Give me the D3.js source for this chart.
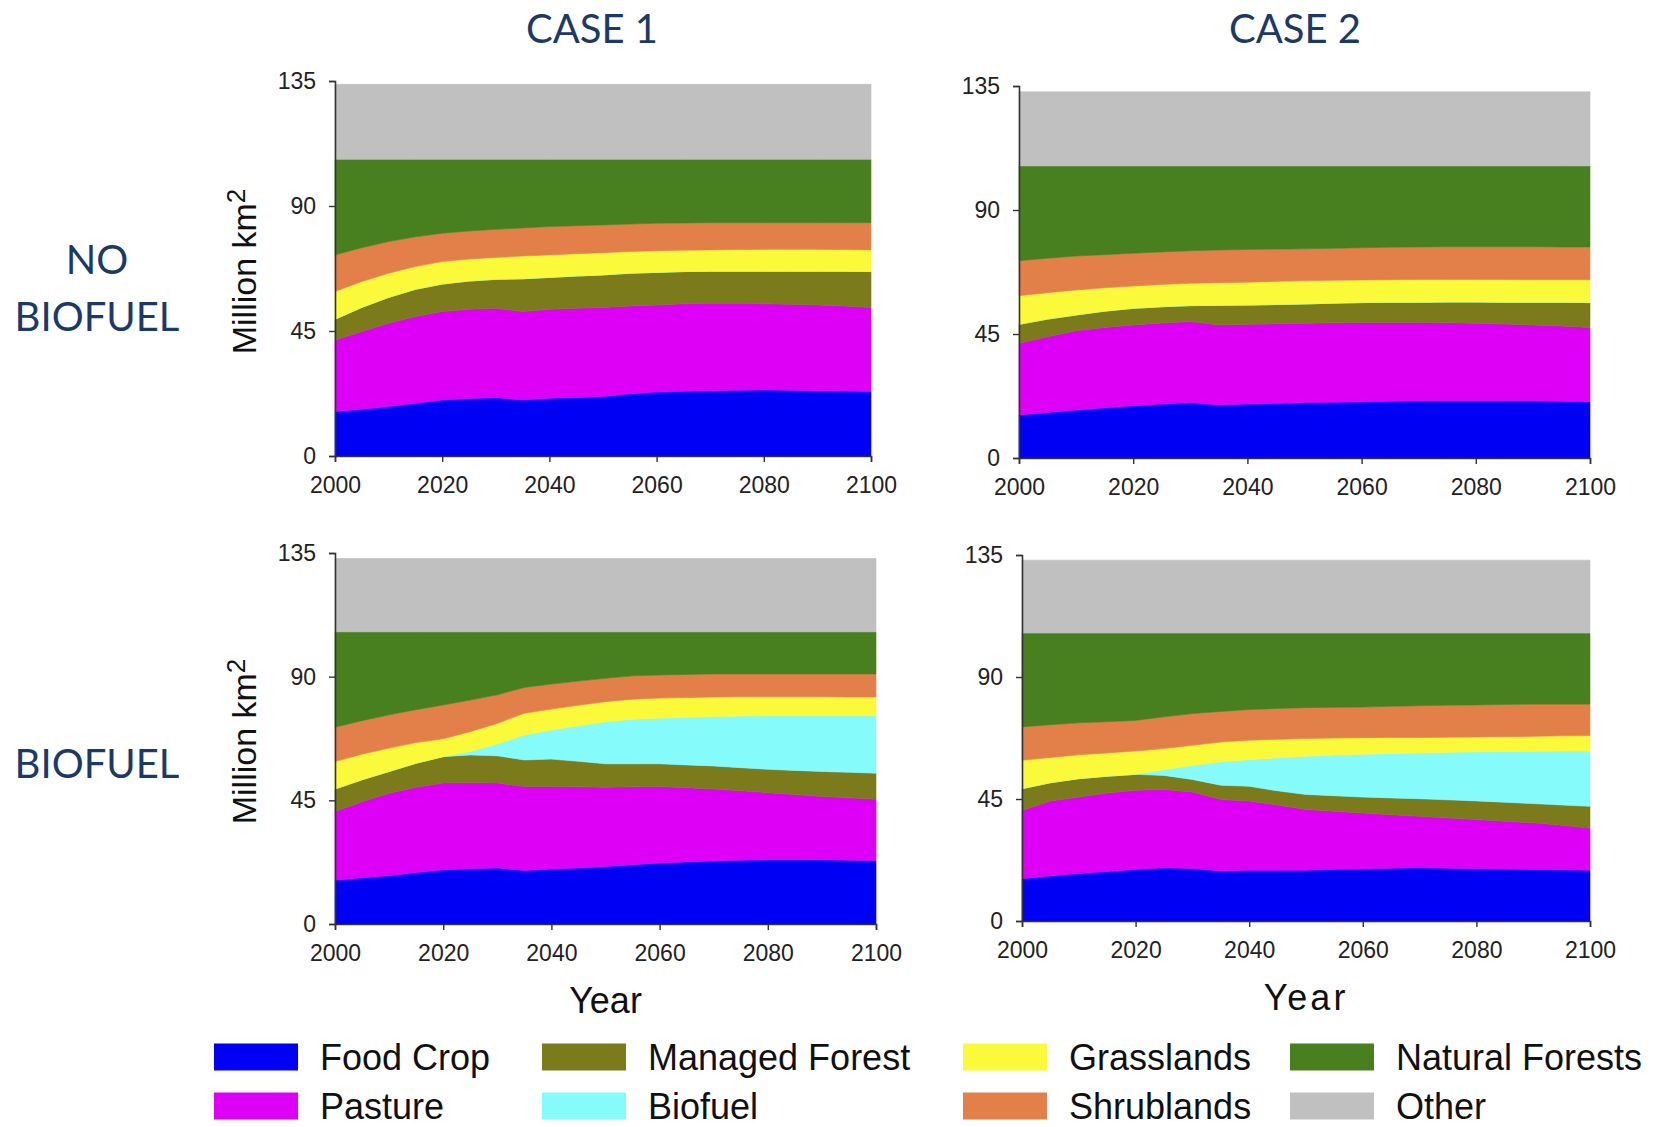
<!DOCTYPE html>
<html>
<head>
<meta charset="utf-8">
<script src="https://cdn.jsdelivr.net/npm/d3@7"></script>
<style>
  html, body { margin: 0; padding: 0; background: #ffffff; }
  svg { display: block; }
</style>
</head>
<body>
<svg id="chart" width="1658" height="1127"></svg>
<script>
// ---- Data: land area by type, million km2, stacked bottom to top ----
const years = [2000, 2005, 2010, 2015, 2020, 2025, 2030, 2035, 2040, 2045, 2050,
               2055, 2060, 2065, 2070, 2075, 2080, 2085, 2090, 2095, 2100];

const categories = ["Food Crop", "Pasture", "Managed Forest", "Biofuel",
                    "Grasslands", "Shrublands", "Natural Forests", "Other"];
const categoryColors = ["#0000f4", "#de00f6", "#7b7b1c", "#86fbfb",
                        "#fafa3a", "#e3804a", "#487f1f", "#c0c0c0"];

const xTicks = [2000, 2020, 2040, 2060, 2080, 2100];
const yTicks = [0, 45, 90, 135];

// Case 1, no biofuel
const c1nb_food    = [16.0,16.8,17.8,19.0,20.2,20.7,21.0,20.2,20.8,21.1,21.4,22.4,23.0,23.3,23.5,23.7,23.8,23.7,23.5,23.4,23.2];
const c1nb_pasture = [25.8,28.0,30.0,31.2,31.8,32.1,32.2,31.8,32.0,32.1,32.1,31.6,31.4,31.5,31.5,31.3,31.0,30.9,30.9,30.6,30.3];
const c1nb_managed = [7.4,8.7,9.3,9.8,9.9,10.2,10.4,11.8,11.5,11.6,11.7,11.8,11.7,11.6,11.5,11.5,11.7,11.9,12.1,12.5,12.9];
const c1nb_biofuel = [0,0,0,0,0,0,0,0,0,0,0,0,0,0,0,0,0,0,0,0,0];
const c1nb_grass   = [10.0,9.3,8.7,8.2,8.1,7.9,7.9,8.2,8.1,8.0,8.0,7.8,7.8,7.7,7.7,7.8,7.9,7.9,7.9,7.8,7.8];
const c1nb_shrub   = [13.2,12.2,11.4,10.7,10.2,10.1,10.1,10.1,10.2,10.1,10.0,9.9,9.9,9.8,9.8,9.7,9.6,9.6,9.6,9.7,9.8];
const c1nb_natural = [34.4,31.8,29.6,27.9,26.6,25.8,25.2,24.7,24.2,23.9,23.6,23.3,23.0,22.9,22.8,22.8,22.8,22.8,22.8,22.8,22.8];
const c1nb_other   = [27.0,27.0,27.0,27.0,27.0,27.0,27.0,27.0,27.0,27.0,27.0,27.0,27.0,27.0,27.0,27.0,27.0,27.0,27.0,27.0,27.0];

// Case 2, no biofuel
const c2nb_food    = [15.6,16.5,17.4,18.2,19.0,19.6,20.1,19.2,19.6,19.8,20.1,20.2,20.4,20.6,20.8,20.8,20.8,20.8,20.8,20.6,20.4];
const c2nb_pasture = [26.0,27.5,28.8,29.2,29.3,29.4,29.4,29.1,28.9,28.9,28.8,28.9,28.8,28.6,28.4,28.3,28.1,27.8,27.5,27.3,27.0];
const c2nb_managed = [6.9,6.4,5.7,5.9,6.0,5.9,5.8,7.1,7.0,7.0,7.0,7.1,7.2,7.3,7.3,7.5,7.7,7.9,8.2,8.6,9.0];
const c2nb_biofuel = [0,0,0,0,0,0,0,0,0,0,0,0,0,0,0,0,0,0,0,0,0];
const c2nb_grass   = [10.4,9.6,9.1,8.5,8.1,8.1,8.1,8.2,8.3,8.4,8.4,8.3,8.2,8.2,8.3,8.2,8.2,8.3,8.2,8.2,8.3];
const c2nb_shrub   = [12.7,12.5,12.3,12.0,11.9,11.8,11.8,11.9,11.9,11.7,11.6,11.6,11.7,11.8,11.8,11.9,11.9,11.9,12.0,11.9,11.9];
const c2nb_natural = [34.4,33.5,32.7,32.2,31.7,31.2,30.8,30.5,30.3,30.2,30.1,29.9,29.7,29.5,29.4,29.3,29.3,29.3,29.3,29.4,29.4];
const c2nb_other   = [26.9,26.9,26.9,26.9,26.9,26.9,26.9,26.9,26.9,26.9,26.9,26.9,26.9,26.9,26.9,26.9,26.9,26.9,26.9,26.9,26.9];

// Case 1, with biofuel
const c1b_food    = [15.9,16.8,17.6,18.7,19.7,20.1,20.4,19.5,20.0,20.4,20.9,21.6,22.2,22.6,23.0,23.2,23.4,23.4,23.4,23.2,23.1];
const c1b_pasture = [25.0,27.7,30.0,31.1,31.6,31.3,30.9,30.5,30.0,29.5,28.9,28.3,27.8,27.0,26.1,25.3,24.4,23.7,23.0,22.7,22.3];
const c1b_managed = [8.2,8.0,7.9,8.7,9.6,10.1,9.9,9.7,10.0,9.3,8.5,8.4,8.3,8.3,8.4,8.4,8.5,8.8,9.1,9.3,9.5];
const c1b_biofuel = [0,0,0,0,0,1.3,4.3,9.1,10.6,12.9,15.3,16.2,16.6,17.3,18.0,18.8,19.5,19.9,20.3,20.6,20.9];
const c1b_grass   = [10.0,9.3,8.5,7.5,6.5,7.2,7.5,7.9,7.6,7.5,7.3,7.3,7.3,7.2,7.1,7.0,6.9,6.9,6.9,6.8,6.8];
const c1b_shrub   = [12.5,12.2,12.1,12.0,12.3,11.5,10.4,9.4,9.1,8.8,8.5,8.5,8.4,8.4,8.4,8.3,8.3,8.3,8.3,8.4,8.4];
const c1b_natural = [34.7,32.3,30.2,28.3,26.6,24.8,22.9,20.2,19.0,17.9,16.9,16.0,15.7,15.5,15.3,15.3,15.3,15.3,15.3,15.3,15.3];
const c1b_other   = [26.7,26.7,26.7,26.7,26.7,26.7,26.7,26.7,26.7,26.7,26.7,26.7,26.7,26.7,26.7,26.7,26.7,26.7,26.7,26.7,26.7];

// Case 2, with biofuel
const c2b_food    = [15.6,16.6,17.5,18.3,19.0,19.6,19.4,18.4,18.7,18.7,18.7,19.1,19.2,19.5,19.7,19.5,19.3,19.2,19.0,18.9,18.7];
const c2b_pasture = [25.2,27.7,28.2,28.9,29.2,28.9,28.2,26.4,25.6,24.1,22.4,21.4,20.6,19.7,18.9,18.5,18.1,17.6,17.2,16.4,15.6];
const c2b_managed = [8.0,6.7,6.8,6.2,5.9,5.2,4.6,5.3,5.4,5.2,5.6,5.7,5.9,6.2,6.5,6.7,6.9,7.0,7.1,7.5,8.0];
const c2b_biofuel = [0,0,0,0,0,2.1,5.2,8.6,9.8,12.2,14.1,15.0,15.8,16.4,16.9,17.5,18.1,18.7,19.3,19.9,20.4];
const c2b_grass   = [10.5,9.3,8.8,8.6,8.6,7.8,7.4,7.3,7.2,6.8,6.5,6.3,6.1,5.9,5.7,5.6,5.5,5.5,5.5,5.6,5.7];
const c2b_shrub   = [12.3,12.1,11.8,11.5,11.3,11.7,11.7,11.3,11.3,11.4,11.4,11.3,11.3,11.5,11.7,11.8,11.8,11.9,11.9,11.7,11.6];
const c2b_natural = [34.6,33.8,33.1,32.7,32.2,30.9,29.7,28.9,28.2,27.8,27.5,27.4,27.3,27.0,26.8,26.6,26.5,26.3,26.2,26.2,26.2];
const c2b_other   = [26.9,26.9,26.9,26.9,26.9,26.9,26.9,26.9,26.9,26.9,26.9,26.9,26.9,26.9,26.9,26.9,26.9,26.9,26.9,26.9,26.9];

// ---- Helpers ----
function buildRows(seriesList) {
  return years.map((yr, i) => {
    const row = { year: yr };
    categories.forEach((c, k) => { row[c] = seriesList[k][i]; });
    return row;
  });
}

const panels = [
  { rows: buildRows([c1nb_food, c1nb_pasture, c1nb_managed, c1nb_biofuel, c1nb_grass, c1nb_shrub, c1nb_natural, c1nb_other]),
    x0: 335, x1: 871, yBase: 456, yTop: 81, yTitle: true, xTitle: false, xTitleSpacing: 0 },
  { rows: buildRows([c2nb_food, c2nb_pasture, c2nb_managed, c2nb_biofuel, c2nb_grass, c2nb_shrub, c2nb_natural, c2nb_other]),
    x0: 1019, x1: 1590, yBase: 458, yTop: 86, yTitle: false, xTitle: false, xTitleSpacing: 0 },
  { rows: buildRows([c1b_food, c1b_pasture, c1b_managed, c1b_biofuel, c1b_grass, c1b_shrub, c1b_natural, c1b_other]),
    x0: 335, x1: 876, yBase: 924, yTop: 553, yTitle: true, xTitle: true, xTitleSpacing: 0 },
  { rows: buildRows([c2b_food, c2b_pasture, c2b_managed, c2b_biofuel, c2b_grass, c2b_shrub, c2b_natural, c2b_other]),
    x0: 1022, x1: 1590, yBase: 921, yTop: 555, yTitle: false, xTitle: true, xTitleSpacing: 3 }
];

const svg = d3.select("#chart");
const stack = d3.stack().keys(categories).order(d3.stackOrderNone).offset(d3.stackOffsetNone);
const tickFont = "'Liberation Sans', Arial, sans-serif";
const headFont = "Lato, 'Open Sans', sans-serif";
const navy = "#1b3a66";

panels.forEach(p => {
  const x = d3.scaleLinear().domain([2000, 2100]).range([p.x0, p.x1]);
  const y = d3.scaleLinear().domain([0, 135]).range([p.yBase, p.yTop]);
  const layers = stack(p.rows);

  const area = d3.area()
    .x(d => x(d.data.year))
    .y0(d => y(d[0]))
    .y1(d => y(d[1]))
    .curve(d3.curveLinear);

  const g = svg.append("g");
  g.selectAll("path.layer")
    .data(layers)
    .join("path")
    .attr("class", "layer")
    .attr("d", area)
    .attr("fill", (d, i) => categoryColors[i])
    .attr("stroke", (d, i) => categoryColors[i])
    .attr("stroke-width", 0.6);

  const yAxis = g.append("g")
    .attr("transform", `translate(${p.x0},0)`)
    .call(d3.axisLeft(y).tickValues(yTicks).tickSize(6).tickPadding(13).tickFormat(d3.format("d")));
  const xAxis = g.append("g")
    .attr("transform", `translate(0,${p.yBase})`)
    .call(d3.axisBottom(x).tickValues(xTicks).tickSize(6).tickPadding(15).tickFormat(d3.format("d")));

  [yAxis, xAxis].forEach(ax => {
    ax.select(".domain").attr("stroke", "#333").attr("stroke-width", 1.6);
    ax.selectAll(".tick line").attr("stroke", "#333").attr("stroke-width", 1.4);
    ax.selectAll(".tick text")
      .attr("fill", "#222")
      .style("font-family", tickFont)
      .style("font-size", "23px");
  });

  if (p.yTitle) {
    const cy = (p.yBase + p.yTop) / 2 + 3;
    const t = g.append("text")
      .attr("transform", `translate(256,${cy}) rotate(-90)`)
      .attr("text-anchor", "middle")
      .attr("fill", "#111")
      .style("font-family", tickFont)
      .style("font-size", "34px");
    t.append("tspan").text("Million km");
    t.append("tspan").attr("dy", -11).style("font-size", "26px").text("2");
  }

  if (p.xTitle) {
    g.append("text")
      .attr("x", (p.x0 + p.x1) / 2)
      .attr("y", p.yBase + 89)
      .attr("text-anchor", "middle")
      .attr("fill", "#111")
      .attr("letter-spacing", p.xTitleSpacing)
      .style("font-family", tickFont)
      .style("font-size", "36px")
      .text("Year");
  }
});

// ---- Column and row headings ----
const headings = [
  { text: "CASE 1", x: 592, y: 28 },
  { text: "CASE 2", x: 1295, y: 28 },
  { text: "NO", x: 97, y: 259 },
  { text: "BIOFUEL", x: 97, y: 316 },
  { text: "BIOFUEL", x: 97, y: 763 }
];
svg.append("g").selectAll("text")
  .data(headings)
  .join("text")
  .attr("x", d => d.x)
  .attr("y", d => d.y)
  .attr("text-anchor", "middle")
  .attr("dominant-baseline", "central")
  .attr("fill", navy)
  .style("font-family", headFont)
  .style("font-size", "40px")
  .text(d => d.text);

// ---- Legend (column-major, two rows) ----
const legendOrder = ["Food Crop", "Pasture", "Managed Forest", "Biofuel",
                     "Grasslands", "Shrublands", "Natural Forests", "Other"];
const legendColX = [214, 542, 963, 1290];
const legendRowY = [1057, 1106];
const legend = svg.append("g");
legendOrder.forEach((name, i) => {
  const col = Math.floor(i / 2), row = i % 2;
  const cx = legendColX[col], cy = legendRowY[row];
  legend.append("rect")
    .attr("x", cx).attr("y", cy - 13.5)
    .attr("width", 84).attr("height", 27)
    .attr("fill", categoryColors[categories.indexOf(name)]);
  legend.append("text")
    .attr("x", cx + 106).attr("y", cy)
    .attr("dominant-baseline", "central")
    .attr("fill", "#111")
    .style("font-family", tickFont)
    .style("font-size", "36px")
    .text(name);
});
</script>
</body>
</html>
